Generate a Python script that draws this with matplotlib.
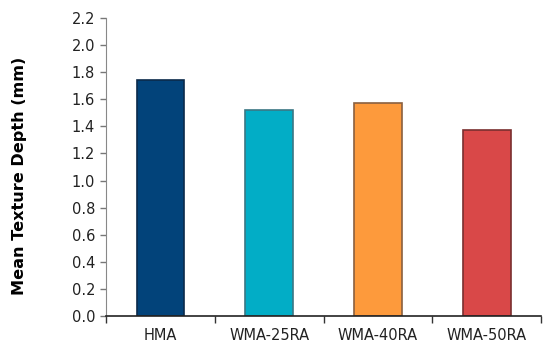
import matplotlib
matplotlib.use('Agg')
import matplotlib.pyplot as plt
import numpy as np

categories = ['HMA', 'WMA-25RA', 'WMA-40RA', 'WMA-50RA']
values = [1.74, 1.52, 1.57, 1.37]
colors = ['#02437a', '#02adc6', '#fd9a3c', '#d94848']
edges = ['#0b2a4a', '#3b7784', '#8a6040', '#7a2f2f']

fig = plt.figure(figsize=(5.5, 3.48), dpi=100)
ax = fig.add_axes([0.193, 0.092, 0.791, 0.856])

x = np.arange(len(categories))
ax.bar(x, values, width=0.44, color=colors, edgecolor=edges, linewidth=1.2)

ax.set_xlim(-0.5, len(categories) - 0.5)
ax.set_ylim(0, 2.2)
yt = np.arange(0, 2.21, 0.2)
ax.set_yticks(yt)
ax.set_yticklabels([f'{v:.1f}' for v in yt])
ax.set_xticks(x)
ax.set_xticklabels(categories)
ax.set_xticks(np.arange(-0.5, len(categories), 1.0), minor=True)
ax.tick_params(axis='x', which='major', length=0, pad=9, labelsize=10.5, colors='#222222')
ax.tick_params(axis='x', which='minor', length=5, width=1, color='#333333', direction='out')
ax.tick_params(axis='y', length=4, width=1, color='#777777', pad=4, labelsize=10.5, labelcolor='#222222')

ax.spines['top'].set_visible(False)
ax.spines['right'].set_visible(False)
ax.spines['left'].set_color('#888888')
ax.spines['bottom'].set_color('#222222')
ax.spines['bottom'].set_linewidth(1.2)

ax.set_ylabel('Mean Texture Depth (mm)', fontsize=11.6, fontweight='bold')
ax.yaxis.set_label_coords(-0.182, 0.47)

fig.savefig('out.png', dpi=100)
